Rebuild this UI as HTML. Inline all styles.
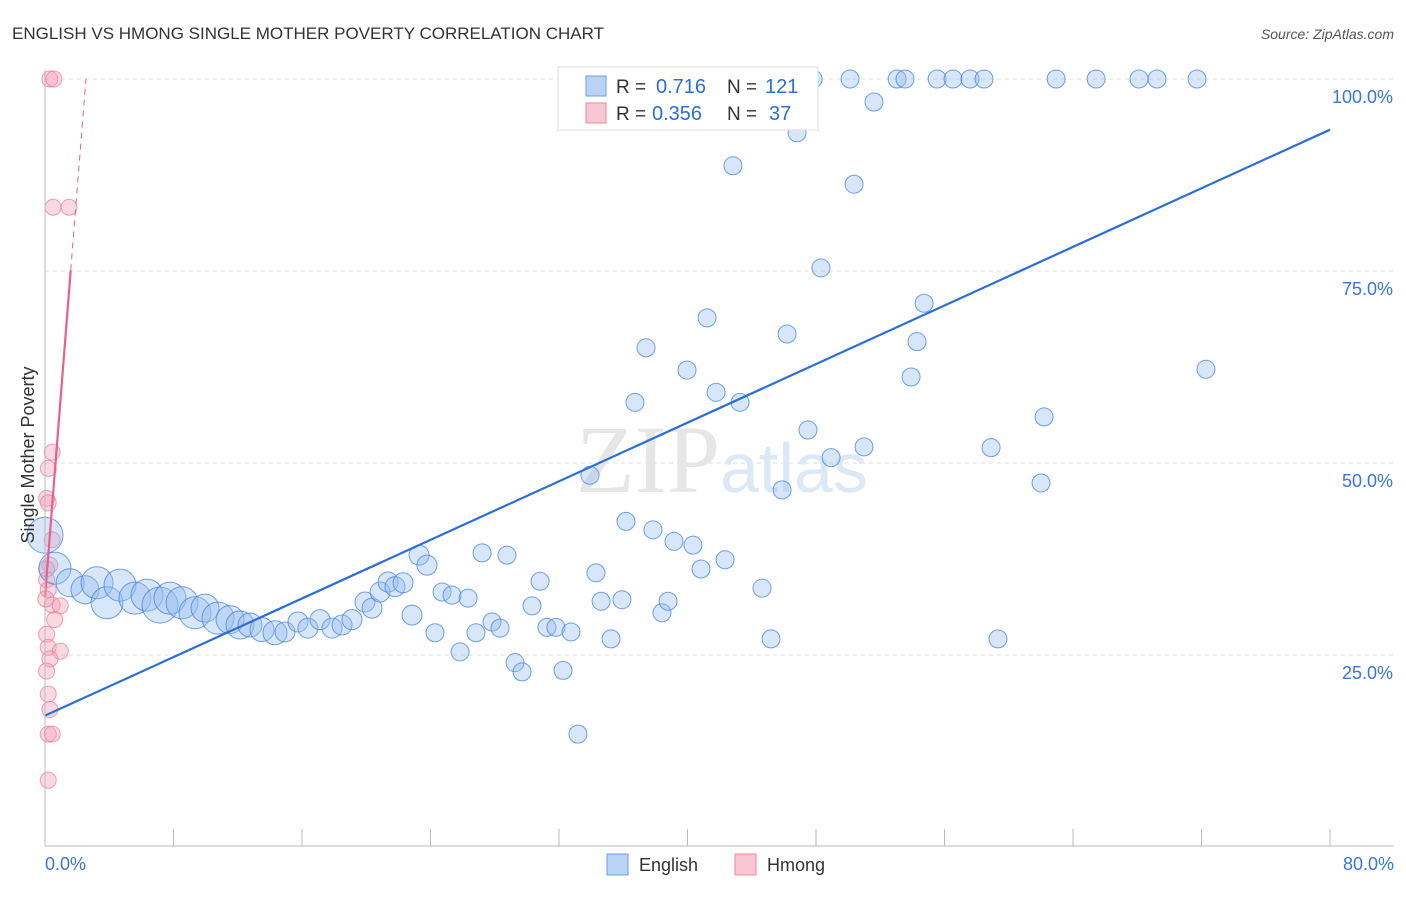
<!DOCTYPE html>
<html><head><meta charset="utf-8"><style>
body{margin:0;background:#fff;font-family:"Liberation Sans",sans-serif}
</style></head><body>
<svg width="1406" height="892" xmlns="http://www.w3.org/2000/svg" font-family="Liberation Sans, sans-serif">
<text x="12" y="39" font-size="17" fill="#333">ENGLISH VS HMONG SINGLE MOTHER POVERTY CORRELATION CHART</text>
<text x="1394" y="39" font-size="14" fill="#555" text-anchor="end" font-style="italic">Source: ZipAtlas.com</text>
<g id="grid"></g>
<text x="720" y="492" font-size="96" fill="#e6e6e6" text-anchor="end" font-family="Liberation Serif, serif">ZIP</text>
<text x="720" y="492" font-size="70" fill="#dde8f6">atlas</text>
<g id="marks"></g>
<line x1="45" y1="70" x2="45" y2="846" stroke="#bbb"/>
<line x1="45" y1="846" x2="1394" y2="846" stroke="#bbb"/>
<text x="45" y="870" font-size="18" fill="#3a76d6">0.0%</text>
<text x="1394" y="870" font-size="18" fill="#3a76d6" text-anchor="end">80.0%</text>
<text x="34" y="455" font-size="18" fill="#333" text-anchor="middle" transform="rotate(-90 34 455)">Single Mother Poverty</text>
<g>
<rect x="558" y="67" width="260" height="63" fill="#fff" stroke="#ddd"/>
<rect x="586" y="76" width="20" height="20" fill="#b9d3f7" stroke="#6d9ee6"/>
<rect x="586" y="103" width="20" height="20" fill="#f9c6d4" stroke="#ea89a5"/>
<text x="616" y="93" font-size="19" fill="#333">R =</text>
<text x="656" y="93" font-size="20" fill="#2b6fd6">0.716</text>
<text x="727" y="93" font-size="19" fill="#333">N =</text>
<text x="765" y="93" font-size="20" fill="#2b6fd6">121</text>
<text x="616" y="120" font-size="19" fill="#333">R =</text>
<text x="652" y="120" font-size="20" fill="#2b6fd6">0.356</text>
<text x="727" y="120" font-size="19" fill="#333">N =</text>
<text x="769" y="120" font-size="20" fill="#2b6fd6">37</text>
</g>
<g>
<rect x="607" y="854" width="21" height="21" fill="#b9d3f7" stroke="#6d9ee6"/>
<text x="639" y="871" font-size="18" fill="#333">English</text>
<rect x="735" y="854" width="21" height="21" fill="#f9c6d4" stroke="#ea89a5"/>
<text x="767" y="871" font-size="18" fill="#333">Hmong</text>
</g>
</svg>
<script>
const yTicks=[25,50,75,100];
const yTickLabels=["25.0%","50.0%","75.0%","100.0%"];
const xTicks=[0,8,16,24,32,40,48,56,64,72,80];
const engX=[0,0.62,1.56,2.49,3.24,3.86,4.67,5.6,6.35,7.16,7.78,8.53,9.34,9.96,10.77,11.52,12.14,12.76,13.51,14.32,14.94,15.75,16.37,17.12,17.87,18.49,19.11,19.92,20.36,20.86,21.36,21.79,22.29,22.85,23.29,23.78,24.28,24.72,25.34,25.84,26.34,26.83,27.21,27.83,28.33,28.76,29.26,29.7,30.32,30.82,31.25,31.81,32.25,32.75,33.18,33.93,34.3,34.62,35.24,35.92,36.17,36.73,37.42,37.85,38.41,38.79,39.16,39.97,40.34,40.84,41.22,41.78,42.34,42.83,43.27,43.65,44.33,44.64,45.2,45.89,46.2,46.82,47.5,47.82,48.31,48.94,50.12,50.37,50.99,51.61,53.05,53.54,53.92,54.29,54.73,55.54,56.53,57.59,58.46,58.9,59.33,62.01,62.2,62.95,65.44,68.11,69.23,71.72,72.28];
const engY=[40.6,36.3,34.4,33.5,34.4,31.8,34.1,32.4,32.8,31.5,32.4,31.8,30.5,31.1,29.8,29.6,28.9,28.9,28.3,27.9,28.0,29.3,28.5,29.6,28.5,28.9,29.6,31.9,31.1,33.2,34.5,33.9,34.4,30.2,38.0,36.7,27.9,33.2,32.8,25.4,32.4,27.9,38.3,29.3,28.5,38.0,24.0,22.8,31.4,34.6,28.6,28.6,23.0,28.0,14.7,48.4,35.7,32.0,27.1,32.2,42.4,57.9,65.0,41.3,30.5,32.0,39.8,62.1,39.3,36.2,68.9,59.2,37.4,88.7,57.9,100,100,33.7,27.1,46.5,66.8,93.0,54.3,100,75.4,50.7,100,86.3,52.1,97.0,100,100,61.2,65.8,70.8,100,100,100,100,52.0,27.1,47.4,56.0,100,100,100,100,100,62.2];
const engR=[18,16,14,14,16,16,16,16,16,18,16,16,16,14,16,14,14,12,12,12,10,10,10,10,10,10,10,10,10,10,10,10,10,10,10,10,9,9,9,9,9,9,9,9,9,9,9,9,9,9,9,9,9,9,9,9,9,9,9,9,9,9,9,9,9,9,9,9,9,9,9,9,9,9,9,9,9,9,9,9,9,9,9,9,9,9,9,9,9,9,9,9,9,9,9,9,9,9,9,9,9,9,9,9,9,9,9,9,9];
const hmX=[0.3,0.55,0.5,1.5,0.45,0.2,0.1,0.2,0.45,0.3,0.1,0.2,0.45,0.95,0.6,0.1,0.2,0.95,0.3,0.1,0.2,0.3,0.2,0.45,0.2,0.05,0.1];
const hmY=[100,100,83.3,83.3,51.4,49.3,45.4,44.8,40,36.7,34.8,33.5,31.5,31.4,29.6,27.7,26,25.5,24.5,22.9,19.9,17.9,14.7,14.7,8.7,32.3,36.2];
const engLine=[0,17.1,80,93.4];
const hmLine=[0,32.6,1.6,75.1,2.55,100];
const X=v=>45+v/80*1285, Y=v=>847-v*7.68;
const ns="http://www.w3.org/2000/svg";
const grid=document.getElementById('grid'), marks=document.getElementById('marks');
function mk(tag,attrs,parent){const e=document.createElementNS(ns,tag);for(const k in attrs)e.setAttribute(k,attrs[k]);parent.appendChild(e);return e;}
yTicks.forEach((t,i)=>{
 const l=mk('line',{x1:45,x2:1394,y1:Y(t),y2:Y(t),stroke:'#ddd','stroke-dasharray':'4,4'},grid);
 
 
 const tx=mk('text',{x:1393,y:Y(t)+24,'font-size':18,fill:'#3a76d6','text-anchor':'end'},grid);
 tx.textContent=yTickLabels[i];
 
 
});
xTicks.forEach(t=>{
 const l=mk('line',{x1:X(t),x2:X(t),y1:829,y2:846,stroke:'#bbb'},grid);
 
 
});
hmX.forEach((v,i)=>{
 const c=mk('circle',{cx:X(v),cy:Y(hmY[i]),r:8,fill:'rgba(244,160,186,0.4)',stroke:'rgba(232,120,155,0.7)'},marks);
 
 
});
engX.forEach((v,i)=>{
 const c=mk('circle',{cx:X(v),cy:Y(engY[i]),r:engR[i],fill:'rgba(150,188,240,0.38)',stroke:'rgba(70,130,220,0.75)'},marks);
 
 
});
const el=mk('line',{x1:X(engLine[0]),y1:Y(engLine[1]),x2:X(engLine[2]),y2:Y(engLine[3]),stroke:'#2b6fd6','stroke-width':2.2},marks);


const hl=mk('line',{x1:X(hmLine[0]),y1:Y(hmLine[1]),x2:X(hmLine[2]),y2:Y(hmLine[3]),stroke:'#e8608c','stroke-width':2.2},marks);


const hd=mk('line',{x1:X(hmLine[2]),y1:Y(hmLine[3]),x2:X(hmLine[4]),y2:Y(hmLine[5]),stroke:'#e8608c','stroke-width':1,'stroke-dasharray':'6,5'},marks);


</script>
</body></html>
